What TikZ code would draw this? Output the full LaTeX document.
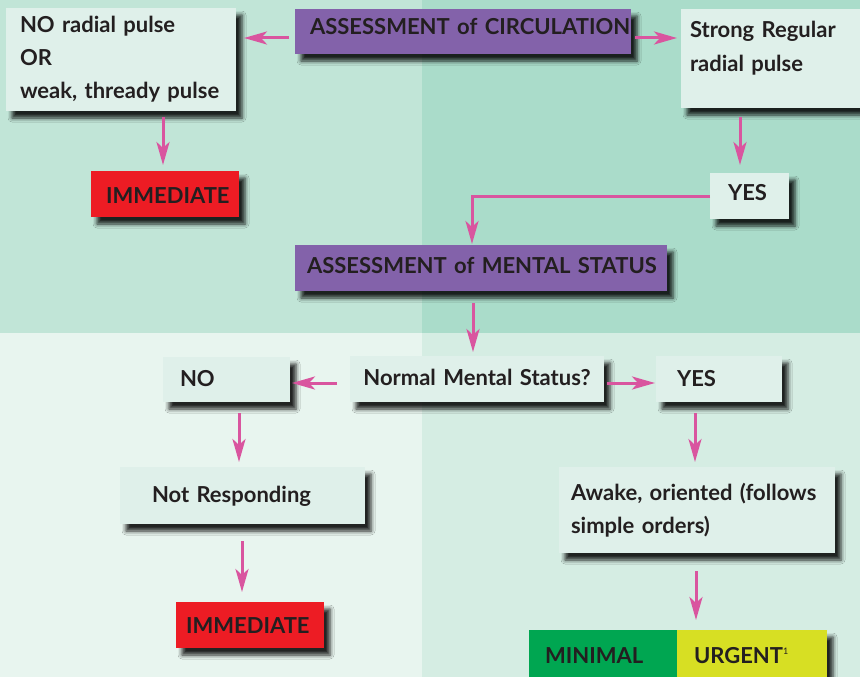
\documentclass[tikz,border=0pt]{standalone}
\usepackage{fontspec}
\setmainfont{Lato}
\usetikzlibrary{arrows.meta,shadows.blur}
\definecolor{bgTL}{HTML}{C1E5D7}
\definecolor{bgTR}{HTML}{AADCCA}
\definecolor{bgBL}{HTML}{E8F5EF}
\definecolor{bgBR}{HTML}{D5EDE3}
\definecolor{boxfill}{HTML}{DFF0EA}
\definecolor{purp}{HTML}{8362AA}
\definecolor{redb}{HTML}{ED1C24}
\definecolor{greenb}{HTML}{00A651}
\definecolor{yellowb}{HTML}{D7DF23}
\definecolor{arrowc}{HTML}{D9559F}
\definecolor{txt}{HTML}{231F20}
\tikzset{
  box/.style={fill=boxfill, anchor=north west, align=left, inner ysep=0pt, outer sep=0pt,
    font=\fontsize{22}{33}\selectfont\bfseries, text=txt,
    blur shadow={shadow xshift=6pt, shadow yshift=-7pt, shadow blur radius=4pt, shadow opacity=85}},
  purpbox/.style={box, fill=purp},
  redbox/.style={box, fill=redb},
  arr/.style={draw=arrowc, line width=3pt, -{Stealth[length=23pt,width=13pt,inset=6pt]}}
}
\begin{document}
\begin{tikzpicture}[x=1pt,y=-1pt]
\useasboundingbox (0,0) rectangle (860,677);
\begin{scope}
\clip (0,0) rectangle (860,677);
\fill[bgTL] (0,0) rectangle (422,333);
\fill[bgTR] (422,0) rectangle (860,333);
\fill[bgBL] (0,333) rectangle (422,677);
\fill[bgBR] (422,333) rectangle (860,677);

\node[box, at={(6,8)}, inner xsep=14pt, text width=202pt, text height=25pt, text depth=78pt] (nopulse)
  {\mbox{NO radial pulse}\\OR\\\mbox{weak, thready pulse}};
\node[purpbox, at={(295,9)}, inner xsep=15pt, text width=306pt, text height=26pt, text depth=19pt] (circ)
  {\mbox{ASSESSMENT of CIRCULATION}};
\node[box, at={(681,9)}, inner xsep=9pt, text width=167pt, text height=29pt, text depth=70pt] (strong)
  {\mbox{Strong Regular}\\\mbox{radial pulse}};
\node[box, at={(710,173)}, inner xsep=18pt, text width=43pt, text height=27pt, text depth=19pt] (yes1)
  {\mbox{YES}};
\node[redbox, at={(91,171)}, inner xsep=15pt, text width=118pt, text height=32pt, text depth=14pt] (imm1)
  {\mbox{IMMEDIATE}};
\node[purpbox, at={(295,245)}, inner xsep=12pt, text width=348pt, text height=28pt, text depth=18pt] (mental)
  {\mbox{ASSESSMENT of MENTAL STATUS}};
\node[box, align=center, at={(350,356)}, inner xsep=13pt, text width=228pt, text height=29pt, text depth=17pt] (normal)
  {\mbox{Normal Mental Status?}};
\node[box, at={(163,357)}, inner xsep=17pt, text width=93pt, text height=29pt, text depth=16pt] (no)
  {\mbox{NO}};
\node[box, at={(656,356)}, inner xsep=21pt, text width=84pt, text height=30pt, text depth=16pt] (yes2)
  {\mbox{YES}};
\node[box, at={(120,467)}, inner xsep=32pt, text width=181pt, text height=35pt, text depth=22pt] (notresp)
  {\mbox{Not Responding}};
\node[box, at={(559,467)}, inner xsep=12pt, text width=252pt, text height=33pt, text depth=53pt] (awake)
  {\mbox{Awake, oriented (follows}\\\mbox{simple orders)}};
\node[redbox, at={(176,602)}, inner xsep=10pt, text width=128pt, text height=31pt, text depth=15pt] (imm2)
  {\mbox{IMMEDIATE}};
\node[box, fill=greenb, at={(529,630)}, inner xsep=16pt, text width=116pt, text height=33pt, text depth=15pt] (minimal)
  {\mbox{MINIMAL}};
\node[box, fill=yellowb, at={(677,630)}, inner xsep=17pt, text width=116pt, text height=33pt, text depth=15pt] (urgent)
  {\mbox{URGENT\raisebox{9pt}{\fontsize{9}{9}\selectfont\mdseries 1}}};

\draw[arr, shorten <=6pt, shorten >=8pt] ([yshift=-6.5pt]circ.west) -- ([yshift=-6.5pt]circ.west -| nopulse.east);
\draw[arr, shorten <=4pt, shorten >=4pt] ([yshift=-6.5pt]circ.east) -- ([yshift=-6.5pt]circ.east -| strong.west);
\draw[arr, shorten <=6pt, shorten >=6pt] ([xshift=-2pt]imm1.north |- nopulse.south) -- ([xshift=-2pt]imm1.north);
\draw[arr, shorten <=9pt, shorten >=8pt] ([xshift=-9.5pt]yes1.north |- strong.south) -- ([xshift=-9.5pt]yes1.north);
\draw[arr, shorten >=1pt] (yes1.west) -| ([xshift=-9pt]mental.north);
\draw[arr, shorten <=12pt, shorten >=4pt] ([xshift=-4pt]normal.north |- mental.south) -- ([xshift=-4pt]normal.north);
\draw[arr, shorten <=13pt, shorten >=2pt] ([yshift=-4pt]normal.west) -- ([yshift=-4pt]normal.west -| no.east);
\draw[arr, shorten <=3pt, shorten >=1pt] ([yshift=-4pt]normal.east) -- ([yshift=-4pt]normal.east -| yes2.west);
\draw[arr, shorten <=11pt, shorten >=5pt] ([xshift=-2pt]awake.north |- yes2.south) -- ([xshift=-2pt]awake.north);
\draw[arr, shorten <=11pt, shorten >=5pt] ([xshift=-3.5pt]notresp.north |- no.south) -- ([xshift=-3.5pt]notresp.north);
\draw[arr, shorten <=17pt, shorten >=10pt] ([xshift=-8pt]imm2.north |- notresp.south) -- ([xshift=-8pt]imm2.north);
\draw[arr, shorten <=18pt, shorten >=10pt] ([xshift=19pt]urgent.north west |- awake.south) -- ([xshift=19pt]urgent.north west);
\end{scope}
\end{tikzpicture}
\end{document}
